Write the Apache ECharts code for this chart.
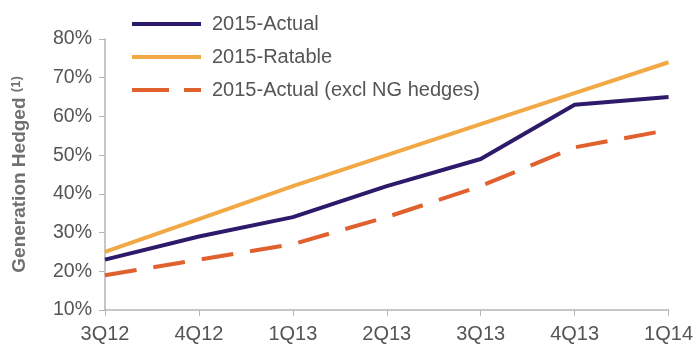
<!DOCTYPE html>
<html>
<head>
<meta charset="utf-8">
<script src="https://cdn.jsdelivr.net/npm/echarts@6/dist/echarts.min.js"></script>
<style>
  html, body { margin: 0; padding: 0; background: #fff; }
  #chart { width: 696px; height: 349px; }
</style>
</head>
<body>
<div id="chart"></div>
<script>
// Quarterly percentage of generation hedged
const quarters = ['3Q12', '4Q12', '1Q13', '2Q13', '3Q13', '4Q13', '1Q14'];
const actual2015 = [23, 29, 34, 42, 49, 63, 65];
const ratable2015 = [25, 33.5, 42, 50, 58, 66, 74];
const actualExclNG = [19, 23, 27, 34, 42, 52, 56.5];

const textColor = '#555';
const axisColor = '#b5b5b5';
const fontFamily = 'Liberation Sans, Arial, sans-serif';

// legend keys: a solid bar, and a long/short dash pair for the dashed series
const solidKey = 'path://M0,0 H69 V4 H0 Z';
const dashedKey = 'path://M0,0 H37 V4 H0 Z M52,0 H69 V4 H52 Z';

const chart = echarts.init(document.getElementById('chart'));
chart.setOption({
  animation: false,
  grid: { left: 105, right: 26, top: 39, bottom: 39 },
  legend: {
    orient: 'vertical',
    left: 127,
    top: 9,
    itemWidth: 69,
    itemHeight: 4,
    itemGap: 13,
    symbolKeepAspect: false,
    textStyle: { color: textColor, fontSize: 20, lineHeight: 20, padding: [0, 0, 0, 6], fontFamily: fontFamily },
    data: [
      { name: '2015-Actual', icon: solidKey },
      { name: '2015-Ratable', icon: solidKey },
      { name: '2015-Actual (excl NG hedges)', icon: dashedKey }
    ]
  },
  xAxis: {
    type: 'category',
    data: quarters,
    boundaryGap: false,
    axisLine: { lineStyle: { color: axisColor, width: 1.5 } },
    axisTick: { show: true, length: 6, lineStyle: { color: axisColor } },
    axisLabel: { color: textColor, fontSize: 20, margin: 14, fontFamily: fontFamily },
    splitLine: { show: false }
  },
  yAxis: {
    type: 'value',
    min: 10,
    max: 80,
    interval: 10,
    name: 'Generation Hedged {s|(1)}',
    nameLocation: 'middle',
    nameGap: 76,
    nameTextStyle: {
      color: '#707070', fontSize: 19, fontWeight: 'bold', fontFamily: fontFamily,
      rich: { s: { color: '#707070', fontSize: 13, fontWeight: 'bold', fontFamily: fontFamily, verticalAlign: 'top', padding: [0, 0, 4, 0] } }
    },
    axisLine: { show: true, lineStyle: { color: axisColor, width: 1.5 } },
    axisTick: { show: true, length: 6, lineStyle: { color: axisColor } },
    axisLabel: { color: textColor, fontSize: 19.5, margin: 13, formatter: '{value}%', fontFamily: fontFamily },
    splitLine: { show: false }
  },
  series: [
    {
      name: '2015-Actual',
      type: 'line',
      data: actual2015,
      symbol: 'none',
      color: '#2d1a6b',
      lineStyle: { color: '#2d1a6b', width: 4 }
    },
    {
      name: '2015-Ratable',
      type: 'line',
      data: ratable2015,
      symbol: 'none',
      color: '#f2a845',
      lineStyle: { color: '#f2a845', width: 4 }
    },
    {
      name: '2015-Actual (excl NG hedges)',
      type: 'line',
      data: actualExclNG,
      symbol: 'none',
      color: '#e0602e',
      lineStyle: { color: '#e0602e', width: 4, type: [32, 17] }
    }
  ]
});
</script>
</body>
</html>
